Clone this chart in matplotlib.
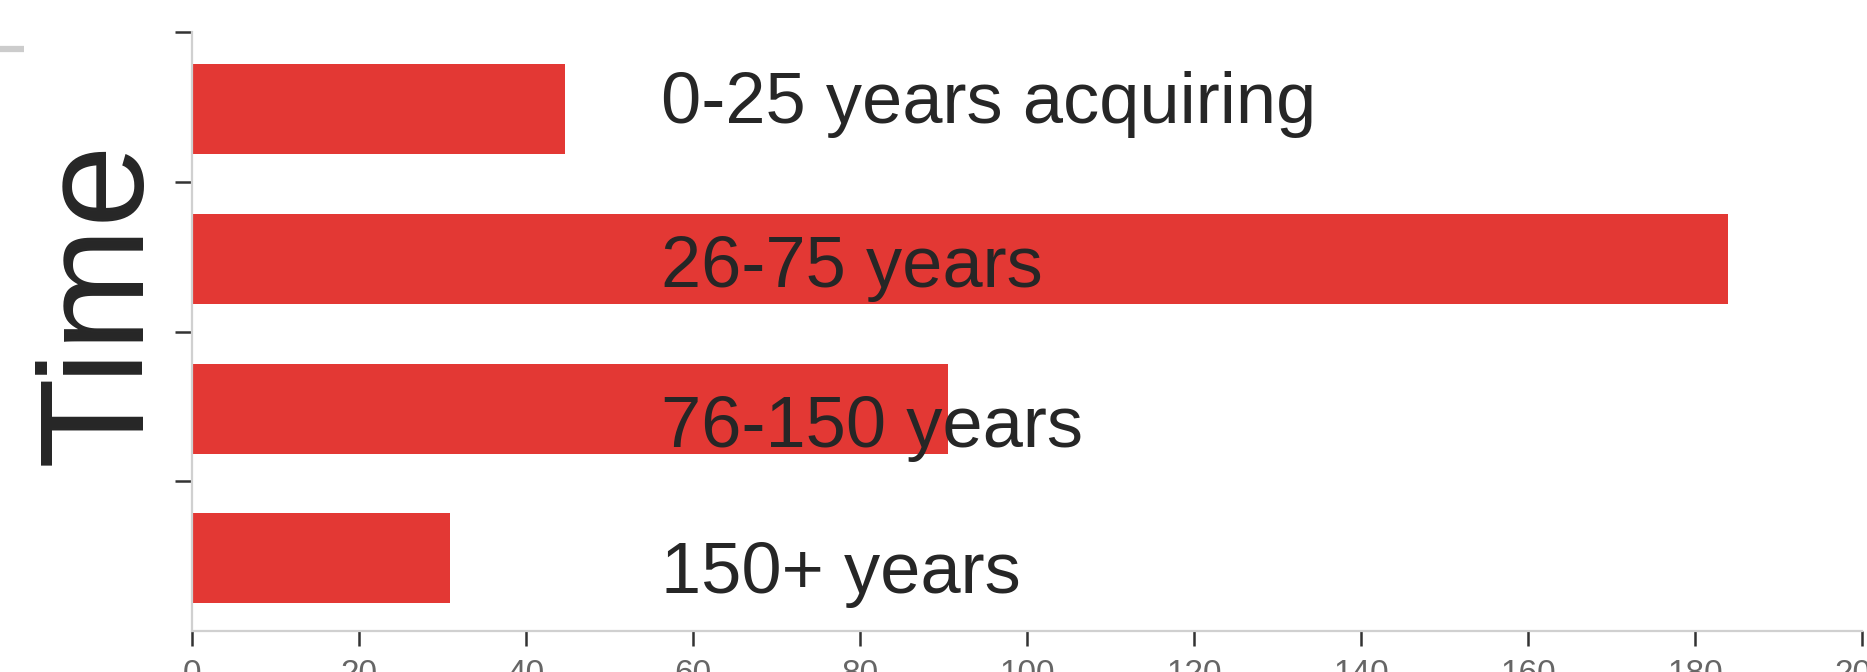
import matplotlib
matplotlib.use("Agg")
import matplotlib.pyplot as plt
from matplotlib.lines import Line2D

plt.rcParams['font.family'] = ['Liberation Sans', 'DejaVu Sans']

# Data
categories = ["0-25 years acquiring", "26-75 years", "76-150 years", "150+ years"]
values = [44.7, 184, 90.6, 30.9]
x_ticks = [0, 20, 40, 60, 80, 100, 120, 140, 160, 180, 200]

# Style
bar_color = "#E33834"
text_color = "#262626"
label_x = 56.2
label_y_offsets = [0.105, 0.205, 0.272, 0.243]  # baseline offsets from category index

fig = plt.figure(figsize=(18.67, 6.72), dpi=100)
ax = fig.add_axes([191.7 / 1867, 1 - 631 / 672, (1862 - 191.7) / 1867, (631 - 32) / 672])

ypos = [p + 0.015 for p in range(len(categories))]
ax.barh(ypos, values, height=0.6, color=bar_color, edgecolor="none")
ax.set_xlim(0, 200)
ax.set_ylim(3.5, -0.5)

for i, (cat, off) in enumerate(zip(categories, label_y_offsets)):
    ax.text(label_x, i + off, cat, fontsize=52, color=text_color,
            ha="left", va="baseline")

ax.set_xticks(x_ticks)
ax.set_xticklabels([str(t) for t in x_ticks])
ax.set_yticks([-0.5, 0.5, 1.5, 2.5])
ax.set_yticklabels([])

for s in ["top", "right"]:
    ax.spines[s].set_visible(False)
for s in ["left", "bottom"]:
    ax.spines[s].set_color("#d0d0d0")
    ax.spines[s].set_linewidth(1.6)

ax.tick_params(axis="x", length=11, width=1.8, color="#333333", labelsize=24,
               labelcolor="#666666", pad=9)
ax.tick_params(axis="y", length=12, width=1.8, color="#333333")

fig.text(141 / 1867, 1 - 303 / 672, "Time", rotation=90, rotation_mode="anchor",
         ha="center", va="baseline", fontsize=107, color=text_color)

fig.add_artist(Line2D([0, 24 / 1867], [1 - 49 / 672, 1 - 49 / 672],
                      transform=fig.transFigure, color="#cccccc", lw=4.5,
                      solid_capstyle="butt"))

fig.savefig("out.png", dpi=100)
